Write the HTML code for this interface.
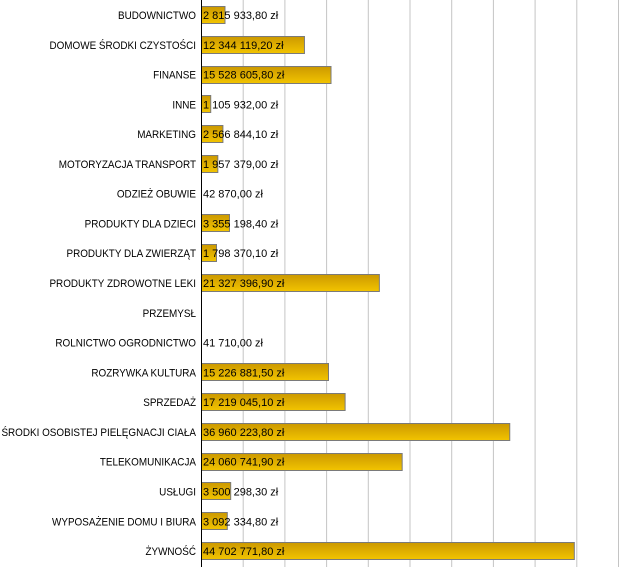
<!DOCTYPE html>
<html><head><meta charset="utf-8"><style>body{margin:0;background:#fff}svg{display:block}text{font-family:"Liberation Sans",sans-serif;font-size:11px;fill:#000}</style></head><body>
<svg width="619" height="567" xmlns="http://www.w3.org/2000/svg">
<defs><linearGradient id="g" x1="0" y1="0" x2="0" y2="1"><stop offset="0" stop-color="#cc9900"/><stop offset="1" stop-color="#f2c400"/></linearGradient></defs>
<g stroke="#c4c4c4" stroke-width="1">
<line x1="243.2" y1="0" x2="243.2" y2="567"/><line x1="284.9" y1="0" x2="284.9" y2="567"/><line x1="326.6" y1="0" x2="326.6" y2="567"/><line x1="368.3" y1="0" x2="368.3" y2="567"/><line x1="410" y1="0" x2="410" y2="567"/><line x1="451.7" y1="0" x2="451.7" y2="567"/><line x1="493.4" y1="0" x2="493.4" y2="567"/><line x1="535.1" y1="0" x2="535.1" y2="567"/><line x1="576.8" y1="0" x2="576.8" y2="567"/><line x1="618.5" y1="0" x2="618.5" y2="567"/>
</g>
<g id="bars" fill="url(#g)" stroke="#7a7a7a" stroke-width="1"></g>
<g id="lbl" text-anchor="end" transform="scale(0.9,1)"></g>
<g id="val"></g>
<line x1="201.5" y1="0" x2="201.5" y2="567" stroke="#000"/>
</svg>
<script>
var d=[["BUDOWNICTWO",2815933.8,"2 815 933,80 zł"],["DOMOWE ŚRODKI CZYSTOŚCI",12344119.2,"12 344 119,20 zł"],["FINANSE",15528605.8,"15 528 605,80 zł"],["INNE",1105932,"1 105 932,00 zł"],["MARKETING",2566844.1,"2 566 844,10 zł"],["MOTORYZACJA TRANSPORT",1957379,"1 957 379,00 zł"],["ODZIEŻ OBUWIE",42870,"42 870,00 zł"],["PRODUKTY DLA DZIECI",3355198.4,"3 355 198,40 zł"],["PRODUKTY DLA ZWIERZĄT",1798370.1,"1 798 370,10 zł"],["PRODUKTY ZDROWOTNE LEKI",21327396.9,"21 327 396,90 zł"],["PRZEMYSŁ",0,""],["ROLNICTWO OGRODNICTWO",41710,"41 710,00 zł"],["ROZRYWKA KULTURA",15226881.5,"15 226 881,50 zł"],["SPRZEDAŻ",17219045.1,"17 219 045,10 zł"],["ŚRODKI OSOBISTEJ PIELĘGNACJI CIAŁA",36960223.8,"36 960 223,80 zł"],["TELEKOMUNIKACJA",24060741.9,"24 060 741,90 zł"],["USŁUGI",3500298.3,"3 500 298,30 zł"],["WYPOSAŻENIE DOMU I BIURA",3092334.8,"3 092 334,80 zł"],["ŻYWNOŚĆ",44702771.8,"44 702 771,80 zł"]];
var ns="http://www.w3.org/2000/svg",B=document.getElementById("bars"),L=document.getElementById("lbl"),V=document.getElementById("val");
d.forEach(function(r,i){var cy=15+i*29.78;
if(r[1]>100000){var w=r[1]/1e6*8.34;var b=document.createElementNS(ns,"rect");b.setAttribute("x",201.5);b.setAttribute("y",Math.round(cy-9)+.5);b.setAttribute("width",w);b.setAttribute("height",17);B.appendChild(b);}
var t=document.createElementNS(ns,"text");t.setAttribute("x",196/0.9);t.setAttribute("y",cy+4);t.textContent=r[0];L.appendChild(t);
if(r[2]){var v=document.createElementNS(ns,"text");v.setAttribute("x",203);v.setAttribute("y",cy+4);v.textContent=r[2];V.appendChild(v);}
});
</script>
</body></html>
